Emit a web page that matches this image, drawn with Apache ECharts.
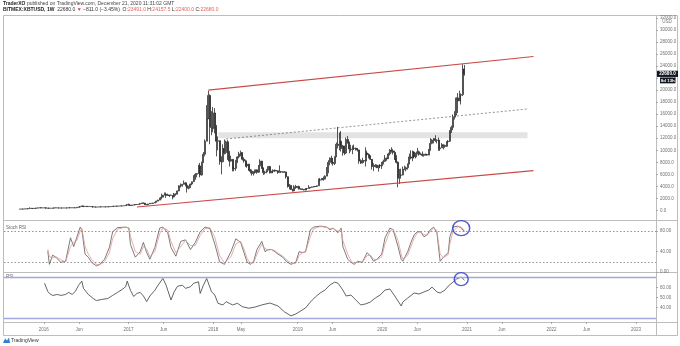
<!DOCTYPE html>
<html>
<head>
<meta charset="utf-8">
<script src="https://cdn.jsdelivr.net/npm/echarts@6/dist/echarts.min.js"></script>
<style>
  html, body { margin: 0; padding: 0; background: #ffffff; }
  #chart { width: 680px; height: 346px; }
</style>
</head>
<body>
<div id="chart"></div>
<script>
// ---- Weekly XBTUSD bars, first bar = week of 2015-09-21 ----
const firstWeekStart = '2015-09-21';
const firstOpen = 230;

const weeklyClose = [
  // 2015
  234, 239, 246, 270, 285, 325, 380, 333, 323, 375, 395, 435, 455, 422, 432,
  // 2016
  448, 380, 400, 370, 375, 400, 437, 433, 416, 412, 410, 416, 420, 423, 428, 460, 445, 460, 455, 444,
  525, 580, 665, 765, 655, 705, 650, 665, 655, 625, 590, 570, 580, 575, 610, 608, 608, 604, 610, 617,
  640, 657, 700, 710, 705, 740, 735, 765, 775, 790, 890, 1000,
  // 2017
  910, 825, 920, 920, 1010, 1000, 1050, 1150, 1220, 1230, 970, 960, 1090, 1190, 1180, 1240, 1350,
  1550, 1720, 2050, 2200, 2550, 2680, 2510, 2570, 2500, 2520, 2250, 2750, 2740, 3250, 4100, 4120,
  4350, 4600, 4200, 3700, 3790, 4400, 4780, 5700, 6000, 6150, 7400, 5900, 8000, 9350, 11500, 15200,
  19100, 13800, 13600,
  // 2018
  16200, 13700, 11500, 11600, 8200, 8100, 10300, 9600, 11400, 9500, 8200, 8500, 6900, 7000, 8000,
  8900, 9400, 9600, 8500, 8250, 7400, 7700, 6700, 6500, 6150, 6400, 6750, 6350, 7400, 8200, 7050,
  6300, 6400, 6700, 7300, 6250, 6500, 6700, 6600, 6600, 6300, 6450, 6400, 6350, 6400, 5600, 4000,
  4150, 3500, 3250, 3950, 3850,
  // 2019
  4000, 3550, 3550, 3500, 3400, 3650, 3650, 3800, 3850, 3920, 3980, 4000, 4100, 5050, 5100, 5300,
  5200, 5700, 7000, 8000, 8700, 8000, 7800, 8900, 11000, 10800, 11500, 10300, 10700, 9550, 11800,
  11300, 10200, 10150, 10350, 10300, 10300, 10050, 8200, 7900, 8300, 8200, 9550, 9300, 9050, 8500,
  7300, 7400, 7500, 7100, 7500, 7400, 8000,
  // 2020
  8150, 8700, 8600, 9400, 10000, 9900, 9650, 8550, 8000, 5350, 5850, 5900, 6780, 6850, 7100, 7700,
  8900, 8700, 9700, 8900, 9450, 9750, 9350, 9300, 9150, 9350, 9300, 9200, 10000, 11150, 11700,
  11900, 11650, 11700, 10250, 10400, 10900, 10800, 10650, 11400, 11500, 13050, 13800, 15500, 16050,
  18700, 18200, 19150, 19250, 23491, 22680
];

const weeklyHigh = [
  // 2015
  238, 241, 250, 272, 294, 335, 502, 390, 335, 380, 417, 470, 465, 465, 438,
  // 2016
  465, 450, 410, 405, 379, 405, 442, 445, 438, 420, 419, 418, 423, 425, 432, 465, 467, 465, 462, 458,
  530, 590, 700, 780, 770, 710, 710, 680, 680, 660, 628, 600, 585, 585, 615, 630, 612, 612, 615, 622,
  645, 665, 725, 745, 725, 755, 750, 770, 780, 795, 900, 1005,
  // 2017
  1150, 915, 925, 925, 1040, 1070, 1060, 1200, 1290, 1320, 1250, 1050, 1100, 1200, 1200, 1250, 1360,
  1620, 1780, 2100, 2800, 2580, 2980, 2990, 2800, 2600, 2650, 2530, 2920, 2830, 3300, 4200, 4480,
  4400, 4980, 4700, 4350, 4100, 4450, 4800, 5850, 6200, 6200, 7600, 7900, 8100, 9700, 11800, 17500,
  19870, 19300, 16500,
  // 2018
  17200, 17000, 14200, 12300, 11600, 9000, 11000, 11800, 11600, 11700, 9900, 9100, 8500, 7400, 8400,
  9000, 9750, 9950, 9700, 8850, 8450, 7800, 7750, 6900, 6800, 6500, 6800, 6800, 7550, 8500, 8250,
  7150, 6600, 6850, 7400, 7400, 6600, 6800, 6800, 6700, 6650, 7500, 6500, 6500, 6550, 6450, 5650,
  4400, 4250, 3600, 4200, 4250,
  // 2019
  4050, 4100, 3700, 3650, 3550, 3700, 3700, 4200, 3900, 3950, 4050, 4050, 4150, 5300, 5400, 5400,
  5650, 5850, 7200, 8350, 8800, 9100, 8100, 9000, 11300, 13880, 12950, 13200, 10900, 10750, 12100,
  12350, 11450, 10900, 10800, 10950, 10450, 10350, 10100, 8500, 8750, 8400, 10500, 9950, 9500, 9150,
  8550, 7850, 7700, 7650, 7500, 7700, 8050,
  // 2020
  8450, 9200, 8800, 9600, 10200, 10500, 10200, 9950, 9200, 8150, 6900, 6950, 7300, 7450, 7300, 7800,
  9450, 10000, 9950, 9850, 9600, 10400, 9950, 9600, 9800, 9400, 9450, 9300, 10200, 12000, 11850,
  12050, 12500, 11800, 12100, 10650, 11200, 10950, 10950, 11500, 11700, 13350, 14100, 15950, 16500,
  18800, 19500, 19900, 19450, 24300, 24157.5
];

const weeklyLow = [
  // 2015
  226, 234, 236, 245, 265, 281, 320, 305, 313, 316, 356, 389, 428, 415, 415,
  // 2016
  424, 360, 375, 364, 364, 370, 398, 405, 405, 408, 405, 408, 410, 416, 420, 425, 440, 440, 448, 437,
  440, 510, 570, 660, 555, 625, 605, 645, 640, 615, 480, 565, 565, 565, 570, 600, 605, 590, 600, 605,
  612, 627, 655, 680, 695, 700, 722, 730, 755, 770, 790, 885,
  // 2017
  800, 760, 820, 890, 920, 940, 990, 1050, 1140, 1100, 940, 890, 950, 1080, 1160, 1180, 1240,
  1350, 1560, 1720, 1850, 2150, 2500, 2100, 2450, 2250, 2480, 1850, 2200, 2450, 2650, 3200, 3800,
  3950, 4300, 4000, 2980, 3500, 3750, 4200, 4780, 5100, 5500, 6100, 5500, 5800, 7900, 9000, 11500,
  15300, 11000, 12500,
  // 2018
  13000, 12800, 9000, 10000, 7600, 6000, 8000, 9300, 9400, 8400, 7300, 8100, 6500, 6500, 6600,
  7900, 8650, 9000, 8300, 7950, 7250, 7100, 6600, 6150, 5800, 5800, 6250, 6100, 6250, 7400, 6900,
  5900, 6000, 6200, 6700, 6150, 6200, 6250, 6400, 6500, 6100, 6300, 6350, 6300, 6350, 5300, 3800,
  3500, 3400, 3150, 3250, 3600,
  // 2019
  3700, 3500, 3500, 3450, 3350, 3350, 3550, 3650, 3700, 3800, 3850, 3950, 3900, 4100, 4950, 5000,
  4950, 5250, 5700, 6200, 7500, 7700, 7450, 7550, 8950, 10300, 10000, 9800, 9100, 9200, 9400,
  11100, 9500, 9800, 9350, 10050, 9950, 9800, 7750, 7750, 7800, 7900, 7300, 9000, 8650, 8400,
  6800, 6550, 7150, 7050, 6450, 7100, 6900,
  // 2020
  7650, 8050, 8250, 8550, 9150, 9600, 9300, 8400, 7800, 3850, 4400, 5650, 5850, 6750, 6500, 6800,
  7700, 8500, 8200, 8700, 8650, 9300, 9100, 9200, 8950, 8950, 9100, 9100, 9200, 9950, 11000,
  11150, 11400, 11150, 9900, 9900, 10400, 10150, 10400, 10550, 11200, 11400, 12900, 13350, 15100,
  15800, 16200, 18200, 17600, 19000, 22400
];

// ---- Stoch RSI (K dark, D red), sampled by week number from the first bar ----
const stochWeek = [17, 18, 20, 22, 25, 28, 31, 33, 35, 37, 38, 40, 42, 44, 47, 49, 52, 55, 57, 60,
  65, 67, 68, 71, 74, 76, 78, 80, 83, 86, 88, 91, 93, 96, 99, 102, 105, 108, 111, 114,
  117, 120, 123, 126, 130, 133, 136, 138, 140, 142, 144, 146, 149, 151, 153, 155, 157, 159, 162, 164,
  167, 170, 172, 174, 176, 179, 181, 185, 189, 191, 193, 196, 198, 199, 202, 204, 206, 208, 211, 214,
  216, 218, 220, 223, 225, 228, 230, 233, 235, 236, 239, 241, 243, 245, 247, 249, 251, 253, 255, 257,
  259, 261, 264, 265, 267, 270, 272, 274];
const stochK = [41, 15, 33, 29, 19, 21, 67, 50, 69, 88, 83, 35, 29, 19, 12, 15, 25, 48, 79, 87,
  88, 86, 54, 29, 40, 58, 38, 25, 48, 86, 88, 77, 48, 31, 60, 63, 44, 58, 79, 88,
  85, 55, 20, 15, 40, 65, 58, 38, 19, 15, 21, 44, 60, 40, 44, 44, 40, 35, 29, 21,
  15, 19, 40, 38, 40, 83, 88, 90, 88, 83, 86, 77, 86, 50, 25, 19, 15, 21, 19, 38,
  31, 21, 25, 35, 67, 86, 83, 50, 25, 21, 40, 58, 73, 79, 79, 69, 73, 83, 88, 77,
  21, 29, 38, 69, 88, 90, 86, 79];
const stochD = [45, 30, 28, 30, 24, 20, 50, 58, 62, 80, 85, 50, 35, 25, 15, 14, 20, 38, 65, 84,
  88, 87, 70, 40, 35, 50, 45, 30, 40, 75, 87, 82, 60, 38, 50, 62, 52, 52, 72, 85,
  87, 68, 32, 18, 30, 55, 60, 45, 26, 17, 18, 35, 54, 46, 43, 44, 42, 37, 31, 25,
  17, 17, 32, 38, 39, 70, 85, 89, 88, 85, 85, 80, 83, 62, 35, 22, 17, 19, 20, 32,
  33, 25, 24, 30, 55, 80, 84, 62, 35, 25, 33, 50, 67, 77, 79, 73, 72, 80, 86, 81,
  35, 28, 34, 55, 80, 89, 88, 82];

// ---- RSI, sampled by week number ----
const rsiWeek = [15, 17, 18, 20, 23, 25, 28, 30, 32, 34, 36, 38, 39, 41, 42, 45, 47, 50, 54, 57,
  60, 63, 65, 66, 68, 70, 72, 74, 76, 78, 80, 83, 85, 88, 89, 90, 91, 93, 95, 97,
  100, 102, 105, 107, 110, 111, 113, 115, 116, 118, 120, 122, 125, 127, 129, 131, 134, 137, 141, 145,
  149, 154, 159, 163, 167, 170, 173, 176, 179, 182, 185, 188, 191, 194, 196, 199, 201, 204, 207, 210,
  213, 216, 219, 222, 225, 228, 231, 235, 236, 239, 243, 246, 249, 252, 254, 257, 259, 262, 264, 267,
  269, 272, 274];
const rsiValue = [64, 56, 54, 52, 53, 52, 53, 55, 53, 56, 62, 66, 59, 55, 53, 49, 47, 48, 49, 52,
  55, 58, 60.5, 66, 57, 51, 54, 55, 51.5, 46, 51.5, 57, 62, 68.7, 69.7, 62, 57, 47.6, 55.7, 61,
  62, 59, 60.5, 64, 65.4, 54, 62, 68.7, 70.3, 55.7, 52.4, 44.3, 42.7, 45.9, 44.3, 42.7, 44.3, 41, 39.5, 40.7,
  42.7, 44.6, 41.7, 35.9, 32, 33.9, 36.8, 39.8, 45.6, 50.5, 54.4, 57.3, 62.2, 65.1, 64, 57.3, 51.5, 52.4, 47.6, 42.7,
  43.7, 45.6, 49.5, 52.4, 57.3, 58.3, 51.5, 41.7, 45.6, 49.5, 54.4, 53.4, 55.4, 57.3, 60.2, 55.4, 54.4, 57.3, 61.2, 65.1,
  68, 70, 67];

// ---- Drawn annotations ----
const upperChannel = [['2017-12-11', 20000], ['2021-10-15', 25580]];
const lowerChannel = [['2017-02-06', 580], ['2021-10-15', 6610]];
const midChannel = [['2018-02-26', 11880], ['2021-09-19', 16860]];
const supplyZoneDates = ['2018-01-24', '2021-09-19'];
const supplyZoneRange = [12000, 13000];
const stochCircle = [272, 86];
const rsiCircle = [272, 68];

// ---- Axis ticks ----
const priceTicks = [0, 2000, 4000, 6000, 8000, 10000, 12000, 14000, 16000, 18000, 20000, 22000,
  24000, 26000, 28000, 30000, 32000];
const stochTicks = [0, 40, 80];
const stochLevels = [80, 20];
const rsiTicks = [40, 50, 60];
const rsiLevels = [70, 30];
const timeTicks = ['2016-01-01', '2016-06-01', '2017-01-01', '2017-06-01', '2018-01-01', '2018-05-01',
  '2019-01-01', '2019-06-01', '2020-01-01', '2020-06-01', '2021-01-01', '2021-06-01', '2022-01-01',
  '2022-06-01', '2023-01-01'];
const viewRange = ['2015-07-13', '2023-03-28'];
const MONTHS = ['Jan', 'Feb', 'Mar', 'Apr', 'May', 'Jun', 'Jul', 'Aug', 'Sep', 'Oct', 'Nov', 'Dec'];

// ---- Helpers ----
const ts = s => Date.parse(s + 'T00:00:00Z');
const WEEK_MS = 7 * 86400000;
const weekTime = i => ts(firstWeekStart) + i * WEEK_MS;

// each weekly bar opens where the previous one closed
const candles = weeklyClose.map((c, i) => [
  weekTime(i), i === 0 ? firstOpen : weeklyClose[i - 1], c, weeklyLow[i], weeklyHigh[i]
]);
const toPts = arr => arr.map(p => [ts(p[0]), p[1]]);
const stochKPts = stochWeek.map((w, i) => [weekTime(w), stochK[i]]);
const stochDPts = stochWeek.map((w, i) => [weekTime(w), stochD[i]]);
const rsiPts = rsiWeek.map((w, i) => [weekTime(w), rsiValue[i]]);

const FONT = '"Liberation Sans", Arial, sans-serif';
const AXIS_TXT = '#707070';
const FRAME = '#bdbdbd';
const RED = '#c94a48';

// time runs along a numeric (millisecond) axis so tick positions can be listed explicitly
const xBase = {
  type: 'value', min: ts(viewRange[0]), max: ts(viewRange[1]),
  axisLine: { show: false }, axisTick: { show: false }, axisLabel: { show: false },
  splitLine: { show: false }, axisPointer: { show: false }
};
const timeTickValues = timeTicks.map(ts);
const yBase = {
  type: 'value', position: 'right', splitLine: { show: false }, axisLine: { show: false },
  axisTick: { show: true, length: 2, lineStyle: { color: '#9a9a9a', width: 0.8 } },
  axisLabel: { fontSize: 4.5, color: AXIS_TXT, margin: 4, fontFamily: FONT }
};

const chart = echarts.init(document.getElementById('chart'), null, { renderer: 'canvas' });

chart.setOption({
  animation: false,
  backgroundColor: '#ffffff',
  grid: [
    { left: 4, right: 24, top: 15, height: 205 },
    { left: 4, right: 24, top: 221, height: 51 },
    { left: 4, right: 24, top: 273, height: 49 }
  ],
  xAxis: [
    Object.assign({}, xBase, { gridIndex: 0 }),
    Object.assign({}, xBase, { gridIndex: 1 }),
    Object.assign({}, xBase, {
      gridIndex: 2,
      axisTick: { show: true, length: 2, customValues: timeTickValues, lineStyle: { color: '#9a9a9a', width: 0.8 } },
      axisLabel: {
        show: true, customValues: timeTickValues, fontSize: 4.5, color: AXIS_TXT, margin: 5,
        fontFamily: FONT,
        formatter: v => {
          const d = new Date(v);
          return d.getUTCMonth() === 0 ? String(d.getUTCFullYear()) : MONTHS[d.getUTCMonth()];
        }
      }
    })
  ],
  yAxis: [
    Object.assign({}, yBase, {
      gridIndex: 0, min: -1580, max: 32470,
      axisTick: Object.assign({}, yBase.axisTick, { customValues: priceTicks }),
      axisLabel: Object.assign({}, yBase.axisLabel, { customValues: priceTicks, formatter: v => v.toFixed(1) })
    }),
    Object.assign({}, yBase, {
      gridIndex: 1, min: 0, max: 100,
      axisTick: Object.assign({}, yBase.axisTick, { customValues: stochTicks }),
      axisLabel: Object.assign({}, yBase.axisLabel, { customValues: stochTicks, formatter: v => v.toFixed(2) })
    }),
    Object.assign({}, yBase, {
      gridIndex: 2, min: 26, max: 74,
      axisTick: Object.assign({}, yBase.axisTick, { customValues: rsiTicks }),
      axisLabel: Object.assign({}, yBase.axisLabel, { customValues: rsiTicks, formatter: v => v.toFixed(2) })
    })
  ],
  series: [
    {
      name: 'zone', type: 'line', xAxisIndex: 0, yAxisIndex: 0, data: [], z: 1, silent: true,
      markArea: {
        silent: true, itemStyle: { color: '#e3e3e3' },
        data: [[
          { xAxis: ts(supplyZoneDates[0]), yAxis: supplyZoneRange[0] },
          { xAxis: ts(supplyZoneDates[1]), yAxis: supplyZoneRange[1] }
        ]]
      }
    },
    {
      name: 'mid', type: 'line', xAxisIndex: 0, yAxisIndex: 0, data: toPts(midChannel),
      symbol: 'none', silent: true, z: 2,
      lineStyle: { color: '#666', width: 0.7, type: [2, 2] }
    },
    {
      name: 'XBTUSD', type: 'candlestick', xAxisIndex: 0, yAxisIndex: 0, data: candles,
      encode: { x: 0, y: [1, 2, 3, 4] }, barWidth: 1.5, z: 3, silent: true,
      itemStyle: {
        color: '#f2f2f2', borderColor: '#2a2a2a', color0: '#2a2a2a', borderColor0: '#2a2a2a', borderWidth: 0.8
      }
    },
    {
      name: 'upper', type: 'line', xAxisIndex: 0, yAxisIndex: 0, data: toPts(upperChannel),
      symbol: 'none', silent: true, z: 4, lineStyle: { color: RED, width: 1.2 }
    },
    {
      name: 'lower', type: 'line', xAxisIndex: 0, yAxisIndex: 0, data: toPts(lowerChannel),
      symbol: 'none', silent: true, z: 4, lineStyle: { color: RED, width: 1.2 }
    },
    {
      name: 'Stoch K', type: 'line', xAxisIndex: 1, yAxisIndex: 1, data: stochKPts,
      symbol: 'none', silent: true, z: 3, lineStyle: { color: '#5a5a5a', width: 0.8 },
      markLine: {
        silent: true, symbol: 'none', label: { show: false },
        lineStyle: { color: '#7a7a7a', width: 0.8, type: [1.5, 2] },
        data: stochLevels.map(v => ({ yAxis: v }))
      }
    },
    {
      name: 'Stoch D', type: 'line', xAxisIndex: 1, yAxisIndex: 1, data: stochDPts,
      symbol: 'none', silent: true, z: 4, lineStyle: { color: '#e09a96', width: 0.8 }
    },
    {
      name: 'stochMark', type: 'scatter', xAxisIndex: 1, yAxisIndex: 1,
      data: [[weekTime(stochCircle[0]), stochCircle[1]]], symbol: 'circle', symbolSize: [17, 15],
      silent: true, z: 6,
      itemStyle: { color: 'rgba(0,0,0,0)', borderColor: '#2a35c8', borderWidth: 1.4 }
    },
    {
      name: 'RSI', type: 'line', xAxisIndex: 2, yAxisIndex: 2, data: rsiPts,
      symbol: 'none', silent: true, z: 3, lineStyle: { color: '#3c3c3c', width: 0.8 },
      markLine: {
        silent: true, symbol: 'none', label: { show: false },
        lineStyle: { color: '#a4a8e0', width: 1.3, type: 'solid' },
        data: rsiLevels.map(v => ({ yAxis: v }))
      }
    },
    {
      name: 'rsiMark', type: 'scatter', xAxisIndex: 2, yAxisIndex: 2,
      data: [[weekTime(rsiCircle[0]), rsiCircle[1]]], symbol: 'circle', symbolSize: [14, 13],
      silent: true, z: 6,
      itemStyle: { color: 'rgba(0,0,0,0)', borderColor: '#2a35c8', borderWidth: 1.4 }
    }
  ]
});

// ---- Frame, header, price tag and panel captions ----
const lastBar = candles[candles.length - 1];
const lastOpen = lastBar[1], lastClose = lastBar[2], lastLow = lastBar[3], lastHigh = lastBar[4];
const change = lastClose - lastOpen;
const changePct = change / lastOpen * 100;
const signed = (v, d) => (v < 0 ? '\u2212' : '+') + Math.abs(v).toFixed(d);

const yLast = chart.convertToPixel({ yAxisIndex: 0 }, lastClose);
const yTop = chart.convertToPixel({ yAxisIndex: 0 }, priceTicks[priceTicks.length - 1]);

const L = 3, R = 678, T = 15, B = 335, AX = 656;
const hLine = y => ({ type: 'line', silent: true, shape: { x1: L, y1: y, x2: R, y2: y }, style: { stroke: FRAME, lineWidth: 1 } });

chart.setOption({
  graphic: [
    { type: 'rect', silent: true, shape: { x: L + 0.5, y: T + 0.5, width: R - L - 1, height: B - T }, style: { fill: 'none', stroke: FRAME, lineWidth: 1 } },
    { type: 'line', silent: true, shape: { x1: AX + 0.5, y1: T, x2: AX + 0.5, y2: B }, style: { stroke: FRAME, lineWidth: 1 } },
    hLine(220.5), hLine(272.5), hLine(322.5),
    {
      type: 'text', silent: true, left: 3, top: 1,
      style: {
        text: '{b|TraderXO} published on TradingView.com, December 21, 2020 11:31:02 GMT',
        font: '5px ' + FONT, fill: '#444',
        rich: { b: { fontWeight: 'bold', fontSize: 5, fontFamily: FONT, fill: '#222' } }
      }
    },
    {
      type: 'text', silent: true, left: 3, top: 7.5,
      style: {
        text: '{b|BITMEX:XBTUSD, 1W}  ' + lastClose.toFixed(1) + ' {r|\u25BC} ' + signed(change, 1) +
          ' (' + signed(changePct, 2) + '%)  O:{v|' + lastOpen.toFixed(1) + '} H:{v|' + lastHigh.toFixed(1) +
          '} L:{v|' + lastLow.toFixed(1) + '} C:{v|' + lastClose.toFixed(1) + '}',
        font: '5px ' + FONT, fill: '#333',
        rich: {
          b: { fontWeight: 'bold', fontSize: 5, fontFamily: FONT, fill: '#222' },
          r: { fontSize: 5, fontFamily: FONT, fill: '#e0413d' },
          v: { fontSize: 5, fontFamily: FONT, fill: '#e0635f' }
        }
      }
    },
    {
      type: 'text', silent: true, z: 50, x: 667, y: yTop + 4,
      style: { text: 'USD', font: '4.5px ' + FONT, fill: AXIS_TXT, align: 'center', verticalAlign: 'middle' }
    },
    {
      type: 'rect', silent: true, z: 100, shape: { x: 657, y: yLast - 3.2, width: 21, height: 6.2 },
      style: { fill: '#131722' }
    },
    {
      type: 'text', silent: true, z: 101, x: 667.5, y: yLast,
      style: { text: lastClose.toFixed(1), font: 'bold 4.6px ' + FONT, fill: '#ffffff', align: 'center', verticalAlign: 'middle' }
    },
    {
      type: 'rect', silent: true, z: 100, shape: { x: 660, y: yLast + 3.6, width: 15.5, height: 5.8 },
      style: { fill: '#131722' }
    },
    {
      type: 'text', silent: true, z: 101, x: 667.8, y: yLast + 6.5,
      style: { text: '8d 13h', font: 'bold 4.4px ' + FONT, fill: '#ffffff', align: 'center', verticalAlign: 'middle' }
    },
    {
      type: 'text', silent: true, x: 6, y: 228,
      style: { text: 'Stoch RSI', font: '4.5px ' + FONT, fill: '#666', verticalAlign: 'middle' }
    },
    {
      type: 'text', silent: true, x: 6, y: 277,
      style: { text: 'RSI', font: '4.5px ' + FONT, fill: '#666', verticalAlign: 'middle' }
    },
    {
      type: 'polygon', silent: true,
      shape: { points: [[3, 343], [5, 338.5], [7, 340.5], [9, 337.5], [10, 343]] },
      style: { fill: '#2f7fd6' }
    },
    {
      type: 'text', silent: true, x: 11, y: 341,
      style: { text: 'TradingView', font: '5px ' + FONT, fill: '#333', verticalAlign: 'middle' }
    }
  ]
});
</script>
</body>
</html>
